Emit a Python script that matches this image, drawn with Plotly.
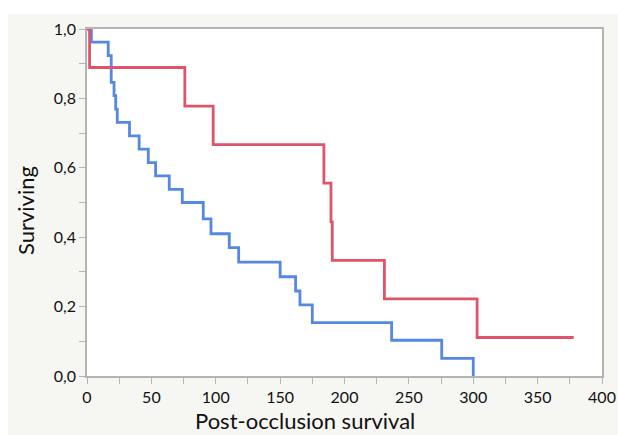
import plotly.graph_objects as go

# Kaplan-Meier curves (time, survival proportion)
red_time = [0, 2, 76, 98, 184, 189.5, 190.5, 231, 303, 378]
red_surv = [1.0, 0.889, 0.778, 0.667, 0.556, 0.444, 0.333, 0.222, 0.111, 0.111]

blue_time = [0, 3.4, 16.5, 18.8, 21, 22.3, 23.5, 33, 40.5, 47.6, 53.3, 63.9, 74,
             90.3, 96.3, 110.5, 117.8, 150, 162, 165.4, 175, 236.6, 275.5, 300]
blue_surv = [1.0, 0.962, 0.923, 0.846, 0.808, 0.769, 0.731, 0.692, 0.654, 0.615,
             0.577, 0.538, 0.500, 0.453, 0.410, 0.370, 0.328, 0.286, 0.245, 0.205,
             0.154, 0.103, 0.051, 0.0]

x_ticks = [0, 50, 100, 150, 200, 250, 300, 350, 400]
y_ticks = [0.0, 0.2, 0.4, 0.6, 0.8, 1.0]

RED = "rgb(222,84,106)"
BLUE = "rgb(84,136,226)"
BG = "#f6f6f2"
AX = "#b4b4b4"
FONT = "Lato"

fig = go.Figure()
fig.add_trace(go.Scatter(x=blue_time, y=blue_surv, mode="lines", line_shape="hv",
                         line=dict(color=BLUE, width=2.8), showlegend=False))
fig.add_trace(go.Scatter(x=red_time, y=red_surv, mode="lines", line_shape="hv",
                         line=dict(color=RED, width=2.8), showlegend=False))

fig.update_layout(
    width=618, height=435,
    margin=dict(l=87, r=16, t=29, b=59, autoexpand=False),
    paper_bgcolor=BG, plot_bgcolor="white",
    separators=", ",
    font=dict(family=FONT, size=16, color="#111"),
    xaxis=dict(range=[0, 400], tickvals=x_ticks, showgrid=False, zeroline=False,
               automargin=False,
               showline=True, mirror=True, linecolor=AX, linewidth=1.5,
               ticks="outside", ticklen=6, tickcolor=AX, tickwidth=1,
               minor=dict(dtick=25, ticks="outside", ticklen=6, tickcolor=AX),
               tickfont=dict(size=16)),
    yaxis=dict(range=[0, 1], tickvals=y_ticks, tickformat=".1f", showgrid=False,
               automargin=False,
               zeroline=False, showline=True, mirror=True, linecolor=AX, linewidth=1.5,
               ticks="outside", ticklen=6, tickcolor=AX, tickwidth=1,
               minor=dict(tickvals=[0.1, 0.3, 0.5, 0.7, 0.9], ticks="outside",
                          ticklen=6, tickcolor=AX),
               tickfont=dict(size=16)),
    shapes=[
        dict(type="rect", xref="paper", yref="paper", x0=-0.2, x1=1.1,
             y0=(376 - 14) / 347, y1=1.2, fillcolor="white", line_width=0, layer="above"),
        dict(type="rect", xref="paper", yref="paper", x0=-0.2, x1=(8 - 87) / 515,
             y0=-0.3, y1=1.2, fillcolor="white", line_width=0, layer="above"),
    ],
    annotations=[
        dict(text="Post-occlusion survival", xref="paper", yref="paper",
             x=(305 - 87) / 515, y=(376 - 420) / 347, showarrow=False,
             font=dict(size=22, family=FONT), xanchor="center", yanchor="middle"),
        dict(text="Surviving", xref="paper", yref="paper",
             x=(25 - 87) / 515, y=(376 - 211) / 347, showarrow=False, textangle=-90,
             font=dict(size=22, family=FONT), xanchor="center", yanchor="middle"),
    ],
)

fig.write_html("out.html")
